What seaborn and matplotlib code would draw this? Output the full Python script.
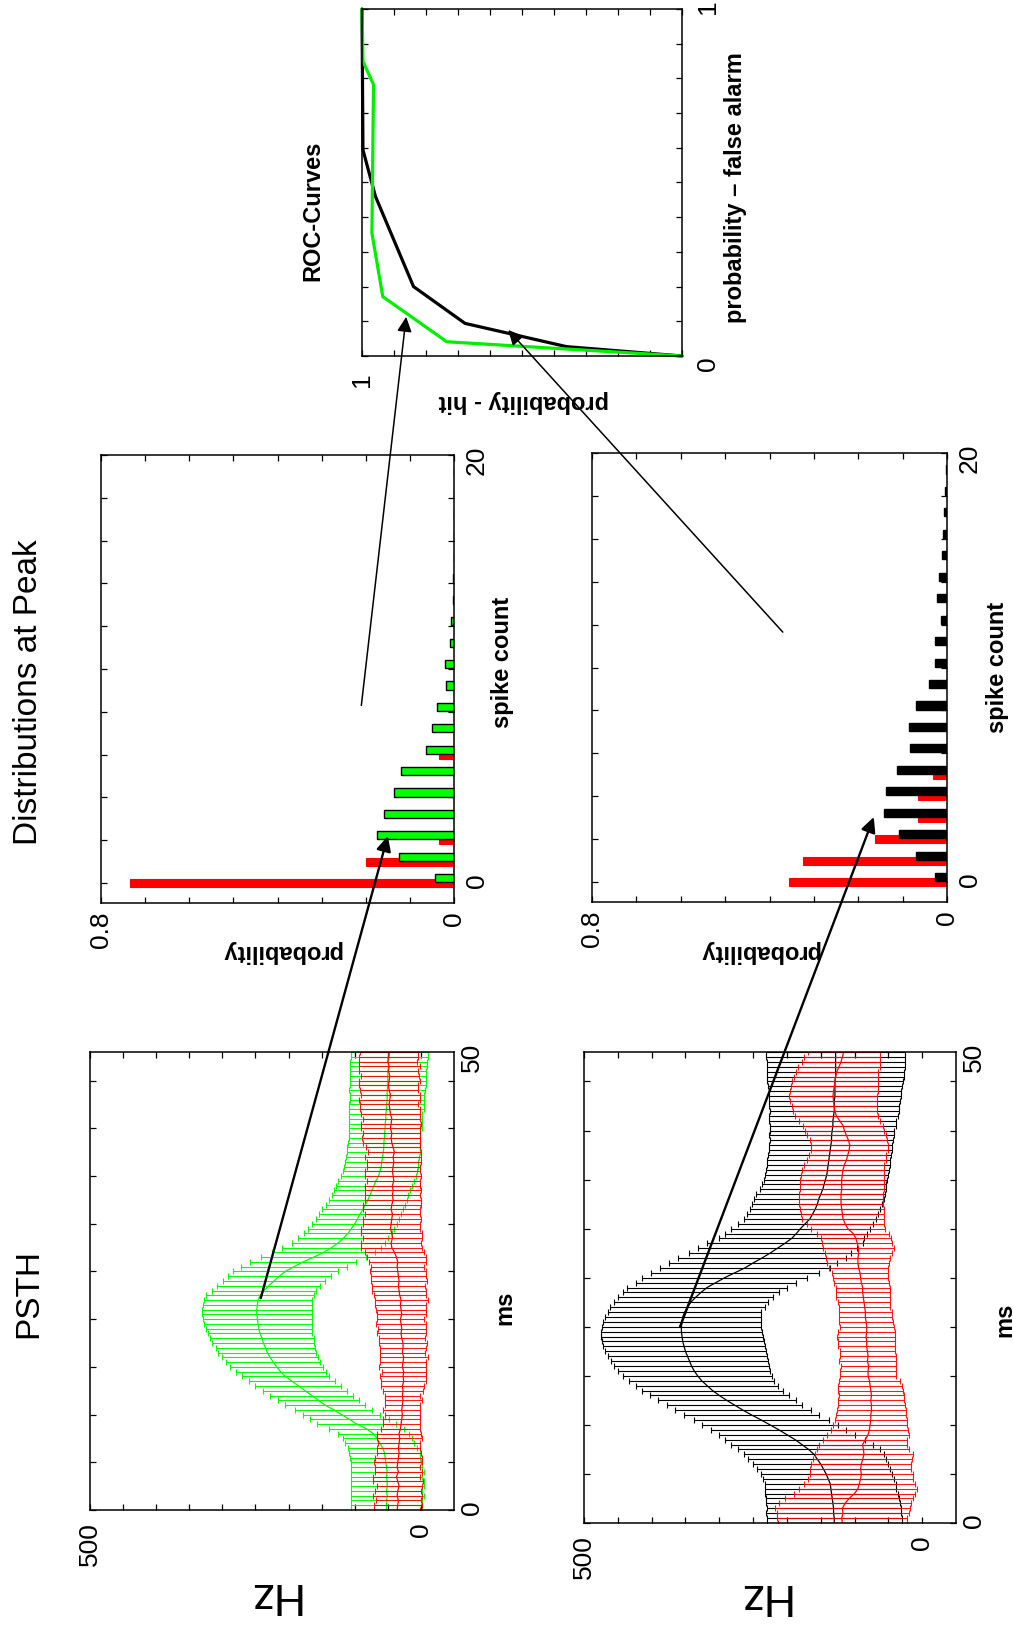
import numpy as np
import seaborn as sns
import matplotlib
matplotlib.use("Agg")
import matplotlib.pyplot as plt
from matplotlib.patches import ConnectionPatch

# ---------------- data ----------------
# PSTH time axis (ms), one error bar every 0.5 ms
t_ms = np.arange(0, 48.5, 0.5)

# top PSTH: green condition (mean rate and half width, Hz)
green_mean = [52, 52, 52, 51, 52, 51, 51, 52, 51, 52, 53, 54, 55,
              58, 62, 66, 72, 82, 97,
              108, 120, 132, 145, 155, 165,
              175, 185, 195, 205, 212, 218,
              223, 228, 232, 235, 238, 240,
              243, 245, 246, 247, 248, 248,
              247, 246, 243, 237, 230, 222,
              214, 205, 192, 178, 162, 147,
              135, 125, 117, 110, 105, 100,
              96, 92, 88, 84, 80, 77,
              74, 71, 68, 64, 62, 60,
              59, 58, 57, 56, 56, 55,
              55, 54, 54, 53, 53, 52,
              52, 51, 51, 51, 50, 50,
              50, 50, 49, 49, 48, 48]
green_sd = [54, 54, 54, 55, 54, 55, 55, 54, 55, 54, 53, 53, 53,
            52, 52, 52, 54, 57, 60,
            60, 58, 58, 60, 61, 63,
            64, 65, 65, 66, 68, 70,
            71, 73, 74, 75, 77, 78,
            79, 80, 81, 82, 83, 83,
            83, 82, 81, 79, 78, 77,
            78, 79, 80, 80, 79, 78,
            75, 70, 68, 66, 65, 64,
            63, 62, 61, 60, 59, 58,
            57, 57, 57, 56, 56, 56,
            55, 55, 55, 55, 54, 54,
            54, 55, 55, 55, 55, 56,
            56, 56, 56, 57, 57, 57,
            57, 57, 58, 58, 58, 58]

# top PSTH: red (noise) condition
red_top_mean = [36, 35, 34, 36, 35, 33, 35, 37, 34, 36, 35, 34, 33,
                34, 33, 32, 33, 31, 30,
                29, 28, 29, 28, 27, 28,
                27, 28, 26, 27, 26, 28,
                27, 26, 28, 27, 27, 29,
                30, 29, 30, 31, 29, 30,
                31, 30, 32, 33, 34, 33,
                34, 35, 36, 35, 37, 40,
                44, 45, 43, 44, 46, 45,
                44, 43, 45, 44, 42, 43,
                42, 43, 41, 42, 43, 42,
                41, 42, 40, 42, 44, 45,
                44, 46, 45, 44, 46, 47,
                48, 47, 46, 48, 49, 48,
                47, 49, 48, 50, 49, 48]
red_top_sd = [35, 36, 34, 37, 35, 34, 38, 36, 35, 34, 36, 35, 33,
              33, 32, 34, 33, 30, 28,
              28, 27, 28, 27, 28, 27,
              30, 32, 34, 35, 33, 36,
              35, 36, 34, 35, 36, 35,
              37, 36, 38, 36, 37, 38,
              38, 40, 39, 41, 40, 42,
              41, 42, 40, 43, 44, 45,
              46, 45, 44, 46, 45, 43,
              44, 42, 43, 44, 42, 41,
              42, 41, 40, 42, 41, 40,
              41, 42, 40, 41, 43, 44,
              43, 44, 45, 43, 44, 45,
              44, 46, 45, 44, 45, 46,
              44, 45, 46, 44, 45, 44]

# bottom PSTH: black condition
black_mean = [130, 130, 131, 131, 132, 133, 134, 135, 136, 139, 142, 146, 150,
              155, 160, 168, 178, 188, 200,
              212, 225, 238, 252, 265, 277,
              289, 300, 310, 318, 326, 332,
              337, 341, 344, 347, 350, 352,
              354, 355, 356, 356, 355, 354,
              351, 347, 342, 335, 327, 318,
              305, 292, 277, 262, 250, 237,
              225, 214, 203, 193, 186, 180,
              173, 166, 162, 158, 155, 153,
              150, 147, 145, 143, 141, 140,
              139, 138, 137, 136, 135, 134,
              134, 133, 132, 132, 131, 130,
              130, 130, 129, 129, 129, 129,
              128, 128, 128, 128, 128, 128]
black_sd = [100, 100, 100, 99, 99, 98, 98, 97, 97, 97, 97, 98, 100,
            102, 104, 105, 105, 103, 100,
            100, 100, 100, 100, 100, 100,
            102, 103, 104, 105, 107, 110,
            112, 114, 116, 118, 119, 120,
            120, 120, 119, 118, 117, 115,
            113, 114, 114, 115, 116, 118,
            118, 122, 124, 126, 124, 124,
            120, 118, 115, 107, 105, 103,
            100, 98, 97, 96, 96, 96,
            95, 93, 92, 91, 91, 91,
            91, 91, 91, 91, 91, 91,
            92, 92, 93, 94, 95, 95,
            96, 97, 98, 98, 99, 100,
            101, 101, 102, 102, 103, 103]

# bottom PSTH: red condition
red_bot_mean = [118, 119, 117, 118, 114, 108, 100, 95, 93, 91, 90, 91, 90,
                88, 86, 87, 88, 84, 80,
                78, 77, 76, 76, 75, 75,
                76, 75, 76, 77, 78, 80,
                80, 79, 81, 80, 81, 82,
                82, 83, 82, 82, 83, 84,
                84, 85, 86, 87, 88, 88,
                90, 91, 92, 94, 95, 95,
                94, 94, 96, 98, 102, 110,
                114, 117, 118, 119, 120, 120,
                120, 119, 119, 119, 118, 117,
                115, 112, 110, 108, 107, 109,
                112, 115, 117, 122, 127, 129,
                130, 131, 132, 131, 130, 129,
                128, 126, 123, 120, 118, 116]
red_bot_sd = [95, 96, 98, 100, 97, 95, 90, 87, 82, 78, 76, 75, 74,
              73, 72, 68, 65, 62, 60,
              57, 55, 53, 52, 51, 50,
              49, 48, 48, 47, 45, 42,
              42, 41, 42, 41, 41, 42,
              42, 43, 42, 40, 40, 39,
              39, 38, 39, 40, 40, 40,
              41, 41, 42, 44, 46, 47,
              50, 52, 52, 52, 53, 55,
              57, 60, 61, 62, 62, 62,
              62, 62, 62, 62, 61, 60,
              59, 58, 57, 57, 57, 57,
              58, 58, 59, 60, 61, 62,
              63, 64, 65, 65, 64, 63,
              62, 61, 60, 58, 56, 53]

# spike count distributions at the peak
spike_count = np.arange(21)
dist_red_top = [0.735, 0.20, 0.033, 0, 0, 0, 0.033, 0, 0, 0, 0,
                0, 0, 0, 0, 0, 0, 0, 0, 0, 0]
dist_green = [0.043, 0.125, 0.174, 0.158, 0.135, 0.121, 0.063, 0.05, 0.038, 0.017, 0.02,
              0.008, 0.006, 0.002, 0.002, 0.001, 0.001, 0.001, 0, 0, 0]
dist_red_bot = [0.357, 0.325, 0.163, 0.066, 0.066, 0.032, 0, 0, 0, 0, 0,
                0, 0, 0, 0, 0, 0, 0, 0, 0, 0]
dist_black = [0.028, 0.069, 0.108, 0.141, 0.138, 0.113, 0.083, 0.086, 0.07, 0.04, 0.026,
              0.028, 0.014, 0.023, 0.017, 0.011, 0.009, 0.0075, 0.005, 0.003, 0.001]

# ROC curves (hit, false alarm)
roc_black_hit = [0, 0.361, 0.678, 0.839, 0.958, 0.997, 1.0]
roc_black_fa = [0, 0.027, 0.094, 0.2, 0.46, 0.594, 1.0]
roc_green_hit = [0, 0.735, 0.935, 0.969, 0.964, 0.997, 1.0]
roc_green_fa = [0, 0.041, 0.171, 0.354, 0.782, 0.849, 1.0]

GREEN = "#00ff00"
RED = "#ff0000"

# ---------------- styling ----------------
sns.set_theme(style="ticks", rc={"axes.edgecolor": "black", "xtick.color": "black",
                                 "ytick.color": "black", "text.color": "black",
                                 "axes.labelcolor": "black"})
plt.rcParams["font.family"] = ["Liberation Sans", "DejaVu Sans"]

W, H = 1014, 1635
fig = plt.figure(figsize=(W / 100, H / 100), dpi=100)


def px_axes(x0, y0, x1, y1):
    # axes placed by pixel box of the (sideways) page
    return fig.add_axes([x0 / W, 1 - y1 / H, (x1 - x0) / W, (y1 - y0) / H])


def frame(ax, xlim, ylim, xticks, xlabels, yticks, ylabels, xpad, ypad):
    ax.set_xlim(*xlim)
    ax.set_ylim(*ylim)
    ax.set_xticks(xticks)
    ax.set_xticklabels(xlabels)
    ax.set_yticks(yticks)
    ax.set_yticklabels(ylabels)
    ax.tick_params(direction="in", length=4, width=0.9, labelsize=19,
                   top=True, bottom=True, left=True, right=True,
                   labelleft=False, labelright=True, labeltop=False, labelbottom=True)
    ax.tick_params(axis="x", labelrotation=90, pad=xpad)
    ax.tick_params(axis="y", labelrotation=90, pad=ypad)
    for s in ax.spines.values():
        s.set_visible(True)
        s.set_linewidth(1.1)


def side_label(ax, text, x, y, size=17, rot=90, weight="bold"):
    ax.yaxis.set_label_position("right")
    ax.set_ylabel(text, fontsize=size, fontweight=weight, rotation=rot)
    ax.yaxis.label.set_va("center")
    ax.yaxis.label.set_ha("center")
    ax.yaxis.set_label_coords(x, y)


def bottom_label(ax, text, x, y, size=17, weight="bold", va="center"):
    ax.set_xlabel(text, fontsize=size, fontweight=weight, rotation=180)
    ax.xaxis.label.set_va(va)
    ax.xaxis.set_label_coords(x, y)


def plot_psth(ax, m1, s1, c1, m2, s2):
    # signal condition first, red noise condition on top
    ax.errorbar(m1, t_ms, xerr=s1, fmt="none", ecolor=c1, elinewidth=0.8,
                capsize=2.3, capthick=0.8)
    sns.lineplot(x=m1, y=t_ms, orient="y", estimator=None, sort=False,
                 color=c1, lw=0.9, ax=ax)
    ax.errorbar(m2, t_ms, xerr=s2, fmt="none", ecolor=RED, elinewidth=0.8,
                capsize=2.3, capthick=0.8, alpha=0.9)
    sns.lineplot(x=m2, y=t_ms, orient="y", estimator=None, sort=False,
                 color=RED, lw=0.9, ax=ax)
    hz_ticks = np.arange(0, 501, 50)
    hz_labels = ["500" if v == 500 else "0" if v == 0 else "" for v in hz_ticks]
    ms_ticks = list(range(0, 50, 5)) + [48]
    ms_labels = ["0"] + [""] * 9 + ["50"]
    frame(ax, (500, -50), (0, 48), hz_ticks, hz_labels, ms_ticks, ms_labels, 9, 4)
    last = ax.yaxis.get_major_ticks()[-1]
    last.tick1line.set_visible(False)
    last.tick2line.set_visible(False)


def plot_dist(ax, red_vals, other_vals, other_color):
    ax.barh(spike_count, red_vals, height=0.37, color=RED, edgecolor=RED, linewidth=0.8)
    ax.barh(spike_count + 0.23, other_vals, height=0.38, color=other_color,
            edgecolor="black", linewidth=1.0)
    p_ticks = np.round(np.arange(0, 0.81, 0.1), 1)
    p_labels = ["0.8" if v == 0.8 else "0" if v == 0 else "" for v in p_ticks]
    c_ticks = np.arange(0, 21, 2)
    c_labels = ["0" if v == 0 else "20" if v == 20 else "" for v in c_ticks]
    frame(ax, (0.8, 0), (-0.93, 20), p_ticks, p_labels, c_ticks, c_labels, 6, 8)


# ---------------- panels ----------------
ax_p1 = px_axes(90, 1052, 454, 1510)
plot_psth(ax_p1, green_mean, green_sd, GREEN, red_top_mean, red_top_sd)
bottom_label(ax_p1, "Hz", 0.5, -0.14, size=32, weight="normal", va="top")
side_label(ax_p1, "ms", 1.14, 0.441)

ax_p2 = px_axes(584, 1052, 956, 1523)
plot_psth(ax_p2, black_mean, black_sd, "black", red_bot_mean, red_bot_sd)
bottom_label(ax_p2, "Hz", 0.48, -0.11, size=32, weight="normal", va="top")
side_label(ax_p2, "ms", 1.132, 0.431)

ax_d1 = px_axes(101, 455, 454, 903)
plot_dist(ax_d1, dist_red_top, dist_green, GREEN)
bottom_label(ax_d1, "probability", 0.51, -0.109)
side_label(ax_d1, "spike count", 1.136, 0.536)

ax_d2 = px_axes(592, 453, 947, 902)
plot_dist(ax_d2, dist_red_bot, dist_black, "black")
bottom_label(ax_d2, "probability", 0.47, -0.111)
side_label(ax_d2, "spike count", 1.141, 0.523)

ax_r = px_axes(362, 9, 682, 356)
sns.lineplot(x=roc_black_hit, y=roc_black_fa, sort=False, estimator=None,
             color="black", lw=2.3, ax=ax_r)
sns.lineplot(x=roc_green_hit, y=roc_green_fa, sort=False, estimator=None,
             color="#00ee00", lw=2.3, ax=ax_r)
for ln in ax_r.lines:
    ln.set_clip_on(False)
r_ticks = np.round(np.arange(0, 1.01, 0.1), 1)
frame(ax_r, (1, 0), (0, 1), r_ticks, ["1" if v == 1 else "" for v in r_ticks],
      r_ticks, ["0" if v == 0 else "1" if v == 1 else "" for v in r_ticks], 12, 10)
# the corner "0" sits a little lower in the original
ax_r.get_yticklabels()[0].set_va("top")
bottom_label(ax_r, "probability - hit", 0.506, -0.13)
side_label(ax_r, "probability \u2013 false alarm", 1.166, 0.484)
ax_r.text(-0.153, 0.418, "ROC-Curves", transform=ax_r.transAxes, rotation=90,
          fontsize=17, fontweight="bold", ha="center", va="center")

# column titles
fig.text(29 / W, 1 - 1293 / H, "PSTH", rotation=90, fontsize=24, ha="center", va="center")
fig.text(29 / W, 1 - 692 / H, "Distributions at Peak", rotation=90, fontsize=24,
         ha="center", va="center")

# ---------------- connecting arrows ----------------
arrows = [
    ((242, 22.2), ax_p1, (0.15, 2.2), ax_d1, 1.7),
    ((0.21, 8.3), ax_d1, (0.862, 0.113), ax_r, 1.1),
    ((358, 20.0), ax_p2, (0.165, 3.03), ax_d2, 1.7),
    ((0.37, 11.65), ax_d2, (0.543, 0.075), ax_r, 1.1),
]
for xy_a, ax_a, xy_b, ax_b, lw in arrows:
    con = ConnectionPatch(xyA=xy_a, coordsA=ax_a.transData, xyB=xy_b, coordsB=ax_b.transData,
                          arrowstyle="-|>,head_length=0.45,head_width=0.22",
                          mutation_scale=20, lw=lw, color="black", zorder=20)
    fig.add_artist(con)

fig.savefig("out.png", dpi=100)
